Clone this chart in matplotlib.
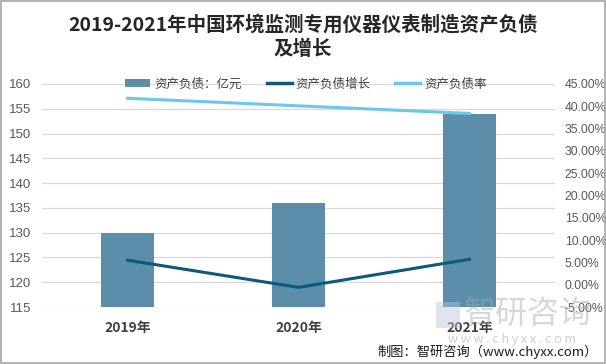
import matplotlib
matplotlib.use("Agg")
import matplotlib.pyplot as plt
from matplotlib.patches import Rectangle
from matplotlib.lines import Line2D
from matplotlib.patches import Patch

plt.rcParams['font.family'] = ['Noto Sans CJK SC', 'DejaVu Sans']

years = ["2019年", "2020年", "2021年"]
debt = [130, 136, 154]            # 资产负债：亿元
growth = [5.5, -0.6, 5.7]         # 资产负债增长 (%)
ratio = [41.8, 40.1, 38.4]        # 资产负债率 (%)
left_ticks = [115, 120, 125, 130, 135, 140, 145, 150, 155, 160]
right_ticks = [-5, 0, 5, 10, 15, 20, 25, 30, 35, 40, 45]

bar_color = "#5B8FA9"
dark_color = "#0B5A7C"
light_color = "#6CC7EC"
tick_color = "#595959"
num_font = ['Liberation Sans', 'DejaVu Sans']

fig = plt.figure(figsize=(6.06, 3.64), dpi=100)
fig.patch.set_facecolor("white")
fig.add_artist(Rectangle((0.001, 0.002), 0.997, 0.995, transform=fig.transFigure,
                         fill=False, edgecolor="#A6A6A6", linewidth=1.2))

ax = fig.add_axes([42/606, 1-307/364, (555-42)/606, (307-84)/364])
x = list(range(len(years)))
ax.bar(x, debt, width=0.315, color=bar_color, zorder=2)
ax.set_xlim(-0.5, 2.5)
ax.set_ylim(115, 160)
ax.set_yticks(left_ticks)
ax.set_yticklabels([str(v) for v in left_ticks], family=num_font)
ax.grid(axis='y', color="#D9D9D9", linewidth=0.9, zorder=0)
ax.set_axisbelow(True)
for s in ax.spines.values():
    s.set_visible(False)
ax.tick_params(axis='both', length=0)
ax.tick_params(axis='y', labelsize=9.5, labelcolor=tick_color, pad=8)
ax.set_xticks(x)
ax.set_xticklabels(years, fontsize=10, fontweight='bold', color="#404040")
ax.tick_params(axis='x', pad=10)

ax2 = ax.twinx()
ax2.plot(x, growth, color=dark_color, linewidth=2.2, zorder=3)
ax2.plot(x, ratio, color=light_color, linewidth=2.2, zorder=3)
ax2.set_ylim(-5, 45)
ax2.set_yticks(right_ticks)
ax2.set_yticklabels([f"{v:.2f}%" for v in right_ticks], family=num_font)
for s in ax2.spines.values():
    s.set_visible(False)
ax2.tick_params(axis='y', length=0, labelsize=8.8, labelcolor=tick_color, pad=7)

# title
fig.text(0.5, 1-37/364, "2019-2021年中国环境监测专用仪器仪表制造资产负债\n及增长",
         ha='center', va='center', fontsize=14, fontweight='bold', color="#262626",
         linespacing=1.3)

# legend
handles = [Patch(facecolor=bar_color), Line2D([], [], color=dark_color, lw=2.5),
           Line2D([], [], color=light_color, lw=2.5)]
labels = ["资产负债：亿元", "资产负债增长", "资产负债率"]
fig.legend(handles, labels, loc='center', bbox_to_anchor=(306/606, 1-84/364), ncol=3,
           frameon=False, fontsize=9, labelcolor="#404040", handlelength=2.0,
           handleheight=0.6, columnspacing=2.0, handletextpad=0.3)

# watermark
fig.text(528/606, 1-314/364, "智研咨询", ha='center', va='center', fontsize=23,
         color="#A8A8A8", alpha=0.45)
fig.add_artist(Rectangle((436/606, 1-328/364), 24/606, 26/364, transform=fig.transFigure,
                         facecolor="#B8C4D8", edgecolor="none", alpha=0.45))
fig.text(512/606, 1-339/364, "w w w . c h y x x . c o m", ha='center', va='center',
         fontsize=9, color="#B0B0B0", alpha=0.6)

fig.text(598/606, 1-352/364, "制图：智研咨询（www.chyxx.com）", ha='right', va='center',
         fontsize=9.5, color="#1a1a1a")

fig.savefig("out.png", dpi=100)
